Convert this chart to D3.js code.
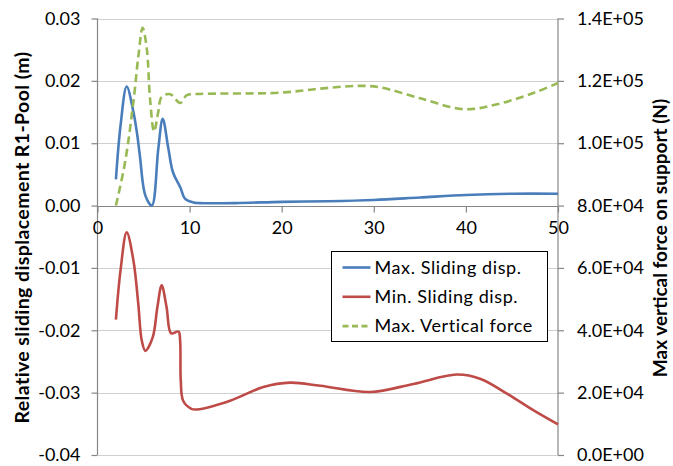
<!DOCTYPE html>
<html>
<head>
<meta charset="utf-8">
<script src="https://cdn.jsdelivr.net/npm/d3@7"></script>
<style>
  html, body { margin: 0; padding: 0; background: #fff; }
  svg { display: block; }
  text { font-family: Lato, "Open Sans", sans-serif; fill: #000; }
</style>
</head>
<body>
<svg id="chart" width="673" height="466"></svg>
<script>
// Max. sliding displacement (m) over time
const maxSlidingT = [2.0, 2.5, 3.17, 3.9, 4.3, 4.6, 5.2, 5.9, 6.6, 7.08, 7.7, 8.2, 9.0, 9.5, 10.4, 11.1, 15, 20, 25, 30, 35, 40, 45, 50];
const maxSlidingV = [0.0042, 0.0128, 0.0191, 0.015, 0.0115, 0.008, 0.0016, 0.0, 0.0091, 0.0139, 0.0091, 0.0053, 0.0029, 0.0011, 0.0005, 0.0004, 0.0004, 0.0006, 0.0007, 0.0009, 0.0013, 0.0017, 0.0019, 0.0019];

// Min. sliding displacement (m) over time
const minSlidingT = [2.0, 2.5, 3.17, 3.9, 4.43, 4.8, 5.2, 6.0, 6.5, 6.97, 7.5, 8.0, 8.8, 8.97, 9.04, 9.3, 10.2, 10.8, 14.4, 18, 20.9, 24.2, 29.6, 34.3, 39, 41.6, 44.5, 47.4, 50];
const minSlidingV = [-0.0183, -0.0104, -0.0043, -0.0088, -0.0158, -0.0216, -0.0233, -0.0211, -0.0163, -0.0128, -0.0163, -0.0205, -0.0202, -0.0216, -0.028, -0.0313, -0.0326, -0.0327, -0.0313, -0.0291, -0.0284, -0.0289, -0.0299, -0.0286, -0.0271, -0.0278, -0.0302, -0.0329, -0.0351];

// Max. vertical force on support (N) over time
const forceT = [2.0, 3.0, 3.9, 4.45, 4.9, 5.35, 5.7, 6.14, 6.6, 6.98, 7.9, 8.97, 9.7, 11.1, 19.8, 24.5, 28.5, 30.7, 35.05, 39.8, 43.4, 47.4, 50];
const forceV = [80000, 94000, 113300, 128200, 137000, 130400, 114400, 103700, 110100, 114900, 115700, 112900, 115400, 115800, 116200, 117600, 118400, 117900, 114400, 110900, 112500, 116200, 119300];

// Axis ticks
const xTicks = [0, 10, 20, 30, 40, 50];
const leftTicks = [-0.04, -0.03, -0.02, -0.01, 0.00, 0.01, 0.02, 0.03];
const rightTicks = [0, 20000, 40000, 60000, 80000, 100000, 120000, 140000];

const seriesNames = ["Max. Sliding disp.", "Min. Sliding disp.", "Max. Vertical force"];
const seriesColors = ["#4a7ebb", "#be4b48", "#98b954"];

const leftTitle = "Relative sliding displacement R1-Pool (m)";
const rightTitle = "Max vertical force on support (N)";

const svg = d3.select("#chart");
const L = 97.5, R = 558, T = 18.5, B = 455;

const x = d3.scaleLinear().domain([0, 50]).range([L, R]);
const yL = d3.scaleLinear().domain([-0.04, 0.03]).range([B, T]);
const yR = d3.scaleLinear().domain([0, 140000]).range([B, T]);

const axisColor = "#868686";
const gridColor = "#d0d0d0";

// Horizontal gridlines
svg.append("g")
  .selectAll("line")
  .data(leftTicks)
  .join("line")
  .attr("x1", L).attr("x2", R)
  .attr("y1", d => Math.round(yL(d)) + 0.5)
  .attr("y2", d => Math.round(yL(d)) + 0.5)
  .attr("stroke", gridColor)
  .attr("stroke-width", 1.2);

// Left axis
const fmtLeft = d => d.toFixed(2);
const gLeft = svg.append("g")
  .attr("transform", `translate(${L},0)`)
  .call(d3.axisLeft(yL).tickValues(leftTicks).tickFormat(fmtLeft).tickSize(6).tickPadding(11));

// Right axis
const fmtRight = d => {
  const [m, e] = d.toExponential(1).split("e");
  const n = parseInt(e, 10);
  return m + "E" + (n < 0 ? "-" : "+") + String(Math.abs(n)).padStart(2, "0");
};
const gRight = svg.append("g")
  .attr("transform", `translate(${R},0)`)
  .call(d3.axisRight(yR).tickValues(rightTicks).tickFormat(fmtRight).tickSize(6).tickPadding(13));

// Bottom (value axis crossing at zero)
const gX = svg.append("g")
  .attr("transform", `translate(0,${Math.round(yL(0)) + 0.5})`)
  .call(d3.axisBottom(x).tickValues(xTicks).tickFormat(d3.format("d")).tickSize(6).tickPadding(9));

[gLeft, gRight, gX].forEach(g => {
  g.select(".domain").attr("stroke", axisColor).attr("stroke-width", 1.2);
  g.selectAll(".tick line").attr("stroke", axisColor).attr("stroke-width", 1.2);
  g.selectAll(".tick text")
    .attr("font-family", "Lato, 'Open Sans', sans-serif")
    .attr("font-size", 18)
    .attr("fill", "#000");
});
gLeft.select(".domain").attr("d", `M0,${T}V${B}`);
gRight.select(".domain").attr("d", `M0,${T}V${B}`);
gX.select(".domain").attr("d", `M${L},0H${R}`);

// Series lines
const curve = d3.curveCatmullRom.alpha(0.5);
const zip = (ts, vs) => ts.map((t, i) => [t, vs[i]]);

svg.append("path")
  .datum(zip(maxSlidingT, maxSlidingV))
  .attr("fill", "none")
  .attr("stroke", seriesColors[0])
  .attr("stroke-width", 2.6)
  .attr("stroke-linejoin", "round")
  .attr("d", d3.line().x(d => x(d[0])).y(d => yL(d[1])).curve(curve));

svg.append("path")
  .datum(zip(minSlidingT, minSlidingV))
  .attr("fill", "none")
  .attr("stroke", seriesColors[1])
  .attr("stroke-width", 2.6)
  .attr("stroke-linejoin", "round")
  .attr("d", d3.line().x(d => x(d[0])).y(d => yL(d[1])).curve(curve));

svg.append("path")
  .datum(zip(forceT, forceV))
  .attr("fill", "none")
  .attr("stroke", seriesColors[2])
  .attr("stroke-width", 2.6)
  .attr("stroke-dasharray", "8,4.5")
  .attr("d", d3.line().x(d => x(d[0])).y(d => yR(d[1])).curve(curve));

// Legend
const lg = svg.append("g").attr("transform", "translate(331.5,251.5)");
lg.append("rect")
  .attr("width", 216).attr("height", 90)
  .attr("fill", "#fff")
  .attr("stroke", "#000")
  .attr("stroke-width", 1);
seriesNames.forEach((name, i) => {
  const cy = 16 + i * 29.3;
  lg.append("line")
    .attr("x1", 11).attr("x2", 39)
    .attr("y1", cy).attr("y2", cy)
    .attr("stroke", seriesColors[i])
    .attr("stroke-width", 2.6)
    .attr("stroke-dasharray", i === 2 ? "6,3.5" : null);
  lg.append("text")
    .attr("x", 43).attr("y", cy)
    .attr("dy", "0.35em")
    .attr("font-size", 18)
    .attr("letter-spacing", 0.6)
    .text(name);
});

// Axis titles
svg.append("text")
  .attr("transform", `translate(28.5,237.5) rotate(-90)`)
  .attr("text-anchor", "middle")
  .attr("font-size", 19.5)
  .attr("font-weight", "bold")
  .attr("letter-spacing", 0.4)
  .text(leftTitle);

svg.append("text")
  .attr("transform", `translate(667,238) rotate(-90)`)
  .attr("text-anchor", "middle")
  .attr("font-size", 19)
  .attr("font-weight", "bold")
  .text(rightTitle);
</script>
</body>
</html>
